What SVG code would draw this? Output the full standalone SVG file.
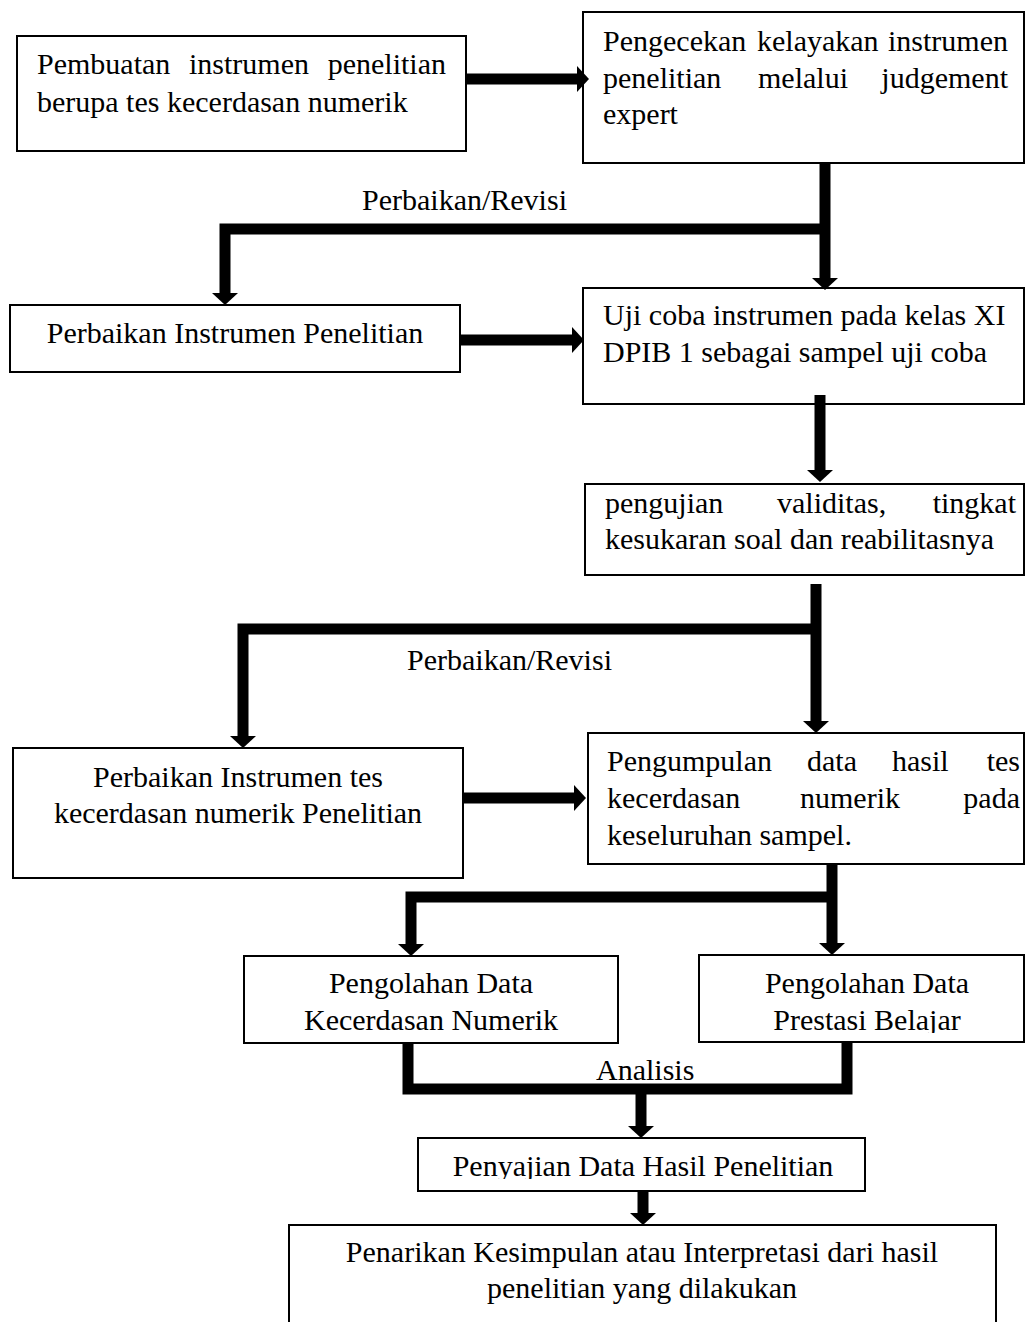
<svg xmlns="http://www.w3.org/2000/svg" width="1026" height="1322" viewBox="0 0 1026 1322">
<style>
.box{fill:#fff;stroke:#000;stroke-width:2}
.t{font-family:"Liberation Serif","Times New Roman",serif;font-size:30px;fill:#000}
.c{text-anchor:middle}
.e{text-anchor:end}
.ln{fill:none;stroke:#000;stroke-width:11;stroke-linejoin:miter}
</style>
<defs>
<marker id="ah" markerUnits="userSpaceOnUse" markerWidth="14" markerHeight="26" refX="0" refY="13" orient="auto" overflow="visible">
<path d="M0,0 L12,13 L0,26 z" fill="#000"/>
</marker>
<clipPath id="clip9"><rect x="699" y="955" width="327" height="78"/></clipPath>
<clipPath id="clip10"><rect x="418" y="1138" width="448" height="41"/></clipPath>
</defs>
<rect width="1026" height="1322" fill="#fff"/>

<g id="n1">
<rect class="box" x="17" y="36" width="449" height="115"/>
<text class="t" x="37" y="74">Pembuatan</text>
<text class="t" x="189" y="74">instrumen</text>
<text class="t e" x="446" y="74">penelitian</text>
<text class="t" x="37" y="112">berupa tes kecerdasan numerik</text>
</g>

<g id="n2">
<rect class="box" x="583" y="12" width="441" height="151"/>
<text class="t" x="603" y="51">Pengecekan</text>
<text class="t" x="757" y="51">kelayakan</text>
<text class="t e" x="1008" y="51">instrumen</text>
<text class="t" x="603" y="88">penelitian</text>
<text class="t" x="758" y="88">melalui</text>
<text class="t e" x="1008" y="88">judgement</text>
<text class="t" x="603" y="124">expert</text>
</g>

<g id="n3">
<rect class="box" x="10" y="305" width="450" height="67"/>
<text class="t c" x="235" y="343">Perbaikan Instrumen Penelitian</text>
</g>

<g id="n4">
<rect class="box" x="583" y="288" width="441" height="116"/>
<text class="t" x="603" y="325">Uji coba instrumen pada kelas XI</text>
<text class="t" x="603" y="362">DPIB 1 sebagai sampel uji coba</text>
</g>

<g id="n5">
<rect class="box" x="585" y="484" width="439" height="91"/>
<text class="t" x="605" y="513">pengujian</text>
<text class="t" x="777" y="513">validitas,</text>
<text class="t e" x="1016" y="513">tingkat</text>
<text class="t" x="605" y="549">kesukaran soal dan reabilitasnya</text>
</g>

<g id="n6">
<rect class="box" x="13" y="748" width="450" height="130"/>
<text class="t c" x="238" y="787">Perbaikan Instrumen tes</text>
<text class="t c" x="238" y="823">kecerdasan numerik Penelitian</text>
</g>

<g id="n7">
<rect class="box" x="588" y="733" width="436" height="131"/>
<text class="t" x="607" y="771">Pengumpulan</text>
<text class="t" x="807" y="771">data</text>
<text class="t" x="892" y="771">hasil</text>
<text class="t e" x="1020" y="771">tes</text>
<text class="t" x="607" y="808">kecerdasan</text>
<text class="t" x="800" y="808">numerik</text>
<text class="t e" x="1020" y="808">pada</text>
<text class="t" x="607" y="845">keseluruhan sampel.</text>
</g>

<g id="n8">
<rect class="box" x="244" y="956" width="374" height="87"/>
<text class="t c" x="431" y="993">Pengolahan Data</text>
<text class="t c" x="431" y="1030">Kecerdasan Numerik</text>
</g>

<g id="n9">
<rect class="box" x="699" y="955" width="325" height="87"/>
<text class="t c" x="867" y="993">Pengolahan Data</text>
<text class="t c" x="867" y="1030" clip-path="url(#clip9)">Prestasi Belajar</text>
</g>

<g id="n10">
<rect class="box" x="418" y="1138" width="447" height="53"/>
<text class="t c" x="643" y="1176" clip-path="url(#clip10)">Penyajian Data Hasil Penelitian</text>
</g>

<g id="n11">
<path class="box" d="M289,1322 V1225 H996 V1322" fill="none"/>
<text class="t c" x="642" y="1262">Penarikan Kesimpulan atau Interpretasi dari hasil</text>
<text class="t c" x="642" y="1298">penelitian yang dilakukan</text>
</g>

<g id="connectors">
<path class="ln" d="M466,79 H577" marker-end="url(#ah)"/>
<path class="ln" d="M825,163 V278" marker-end="url(#ah)"/>
<path class="ln" d="M830,229 H225 V293" marker-end="url(#ah)"/>
<path class="ln" d="M460,340 H572" marker-end="url(#ah)"/>
<path class="ln" d="M820,395 V470" marker-end="url(#ah)"/>
<path class="ln" d="M816,584 V721" marker-end="url(#ah)"/>
<path class="ln" d="M821,629 H243 V736" marker-end="url(#ah)"/>
<path class="ln" d="M463,798 H574" marker-end="url(#ah)"/>
<path class="ln" d="M832,864 V943" marker-end="url(#ah)"/>
<path class="ln" d="M837,897 H411 V944" marker-end="url(#ah)"/>
<path class="ln" d="M408,1043 V1089 H847 V1042"/>
<path class="ln" d="M641,1089 V1126" marker-end="url(#ah)"/>
<path class="ln" d="M643,1191 V1213" marker-end="url(#ah)"/>
<text class="t" x="362" y="210">Perbaikan/Revisi</text>
<text class="t" x="407" y="670">Perbaikan/Revisi</text>
<text class="t" x="596" y="1080">Analisis</text>
</g>
</svg>
